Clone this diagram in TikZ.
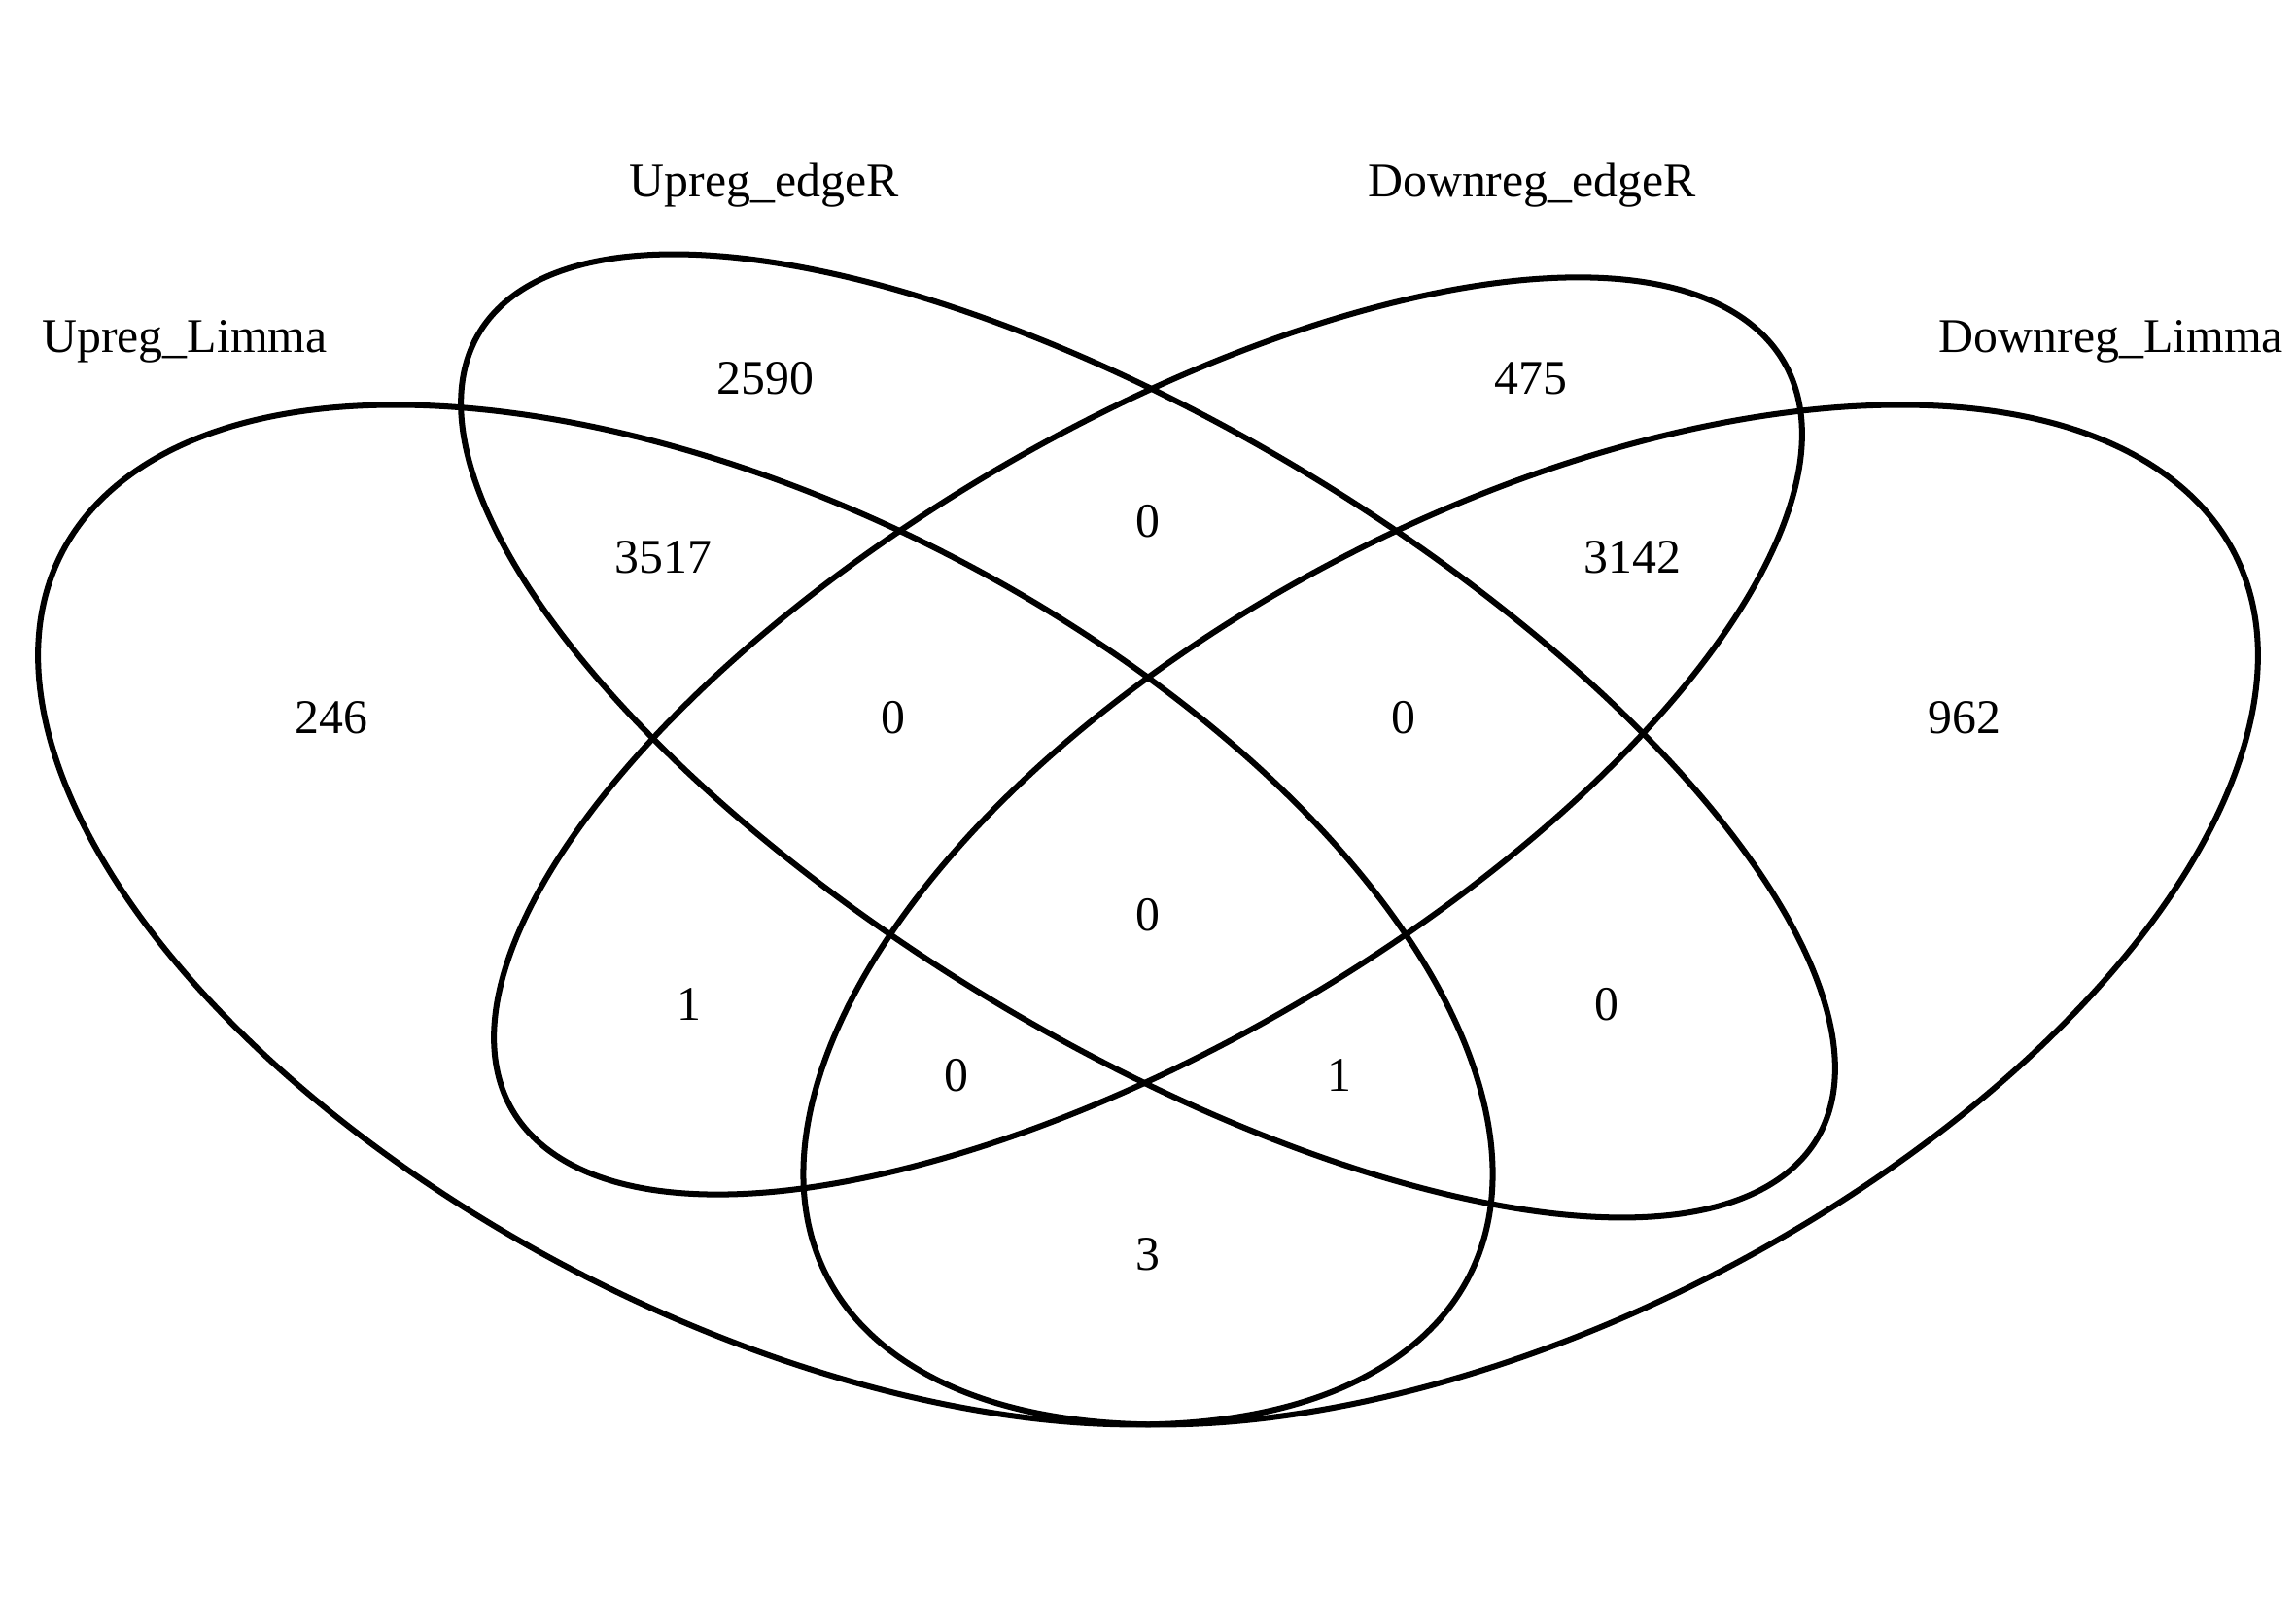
\documentclass[tikz,border=0pt]{standalone}
\usepackage{fontspec}
\setmainfont{Liberation Serif}
\begin{document}
\begin{tikzpicture}[xscale=22.222, yscale=15.576,
	setline/.style={draw=black, line width=1.45pt},
	count/.style={font=\fontsize{12}{14}\selectfont, inner sep=0pt},
	setname/.style={font=\fontsize{12}{14}\selectfont, inner sep=0pt, anchor=base}]
	\useasboundingbox (0.05, 0.0829) rectangle (0.95, 0.9815);

	\draw[setline, shift={(0.35, 0.47)}, rotate=-45] (0, 0) ellipse (0.35cm and 0.2cm);
	\draw[setline, shift={(0.5, 0.57)}, rotate=-45] (0, 0) ellipse (0.35cm and 0.15cm);
	\draw[setline, shift={(0.5, 0.57)}, rotate=45] (0, 0) ellipse (0.33cm and 0.15cm);
	\draw[setline, shift={(0.65, 0.47)}, rotate=45] (0, 0) ellipse (0.35cm and 0.2cm);

	\node[setname] at (0.1224, 0.7842) (upLimma) {Upreg\_Limma};
	\node[setname] at (0.3495, 0.8712) (upEdgeR) {Upreg\_edgeR};
	\node[setname] at (0.6505, 0.8712) (downEdgeR) {Downreg\_edgeR};
	\node[setname] at (0.8776, 0.7842) (downLimma) {Downreg\_Limma};

	\node[count] at (0.18, 0.58) (a) {246};
	\node[count] at (0.35, 0.77) (b) {2590};
	\node[count] at (0.65, 0.77) (c) {475};
	\node[count] at (0.82, 0.58) (d) {962};
	\node[count] at (0.31, 0.67) (ab) {3517};
	\node[count] at (0.5, 0.69) (bc) {0};
	\node[count] at (0.69, 0.67) (cd) {3142};
	\node[count] at (0.40, 0.58) (abc) {0};
	\node[count] at (0.60, 0.58) (bcd) {0};
	\node[count] at (0.5, 0.47) (abcd) {0};
	\node[count] at (0.32, 0.42) (ac) {1};
	\node[count] at (0.68, 0.42) (bd) {0};
	\node[count] at (0.425, 0.38) (acd) {0};
	\node[count] at (0.575, 0.38) (abd) {1};
	\node[count] at (0.5, 0.28) (ad) {3};
\end{tikzpicture}
\end{document}
